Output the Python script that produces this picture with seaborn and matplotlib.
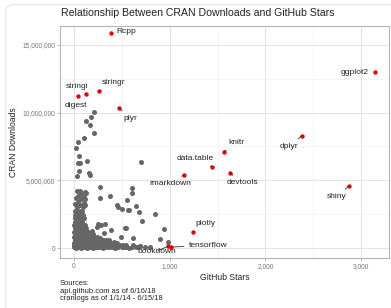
import matplotlib
matplotlib.use("Agg")
import matplotlib.pyplot as plt
import matplotlib.ticker as mticker
from matplotlib.patches import FancyBboxPatch
import seaborn as sns
import pandas as pd

# labelled packages: GitHub stars, CRAN downloads (millions)
pkg_names = ["Rcpp", "ggplot2", "stringi", "digest", "stringr", "plyr", "data.table",
             "rmarkdown", "knitr", "devtools", "dplyr", "shiny", "plotly",
             "tensorflow", "bookdown"]
pkg_stars = [387, 3145, 125, 42, 261, 470, 1442, 1150, 1567, 1630, 2382, 2873, 1243, 1013, 980]
pkg_dl = [15.85, 13.0, 11.4, 11.26, 11.56, 10.37, 6.0, 5.4, 7.1, 5.55, 8.3, 4.6, 1.19, 0.07, 0.12]
# where each label sits (stars, downloads in millions) and how it is aligned
lab_x = [440, 3080, 31, 21, 418, 585, 1264, 1003, 1693, 1755, 2247, 2748, 1379, 1400, 867]
lab_y = [16.0, 12.96, 11.93, 10.52, 12.2, 9.56, 6.6, 4.74, 7.78, 4.81, 7.48, 3.78, 1.78, 0.22, -0.22]
lab_ha = ["left", "right"] + ["center"] * 13

# the rest of the packages
other_stars = [
    209, 178, 125, 167, 209, 104, 42, 21, 52, 45, 63, 136, 157, 167, 31, 52, 700,
    272, 606, 606, 272, 376, 554, 449, 648, 502, 575, 679, 846, 710, 533, 940,
    324, 250, 899, 982, 313, 31, 63, 115, 125, 73, 42, 104, 21, 73, 115, 42, 104,
    10, 63, 115, 31, 94, 188, 240, 282, 386, 543, 491, 616, 460, 564, 616, 690,
    # dense cluster
    3, 12, 22, 31, 44, 58, 70, 83, 97, 112, 128, 141, 157, 172, 188, 205, 221, 240,
    262, 281, 303, 327, 352, 380, 405, 431, 462, 498, 520, 547, 573, 612, 648, 660,
    690, 740, 800,
    6, 18, 29, 40, 53, 66, 79, 92, 106, 121, 135, 150, 166, 183, 199, 218, 236, 257,
    276, 298, 318, 344, 371, 398, 425, 455, 478, 512, 540,
    4, 15, 27, 38, 50, 63, 75, 89, 103, 117, 132, 148, 163, 179, 196, 213, 232, 255,
    279, 305, 331, 360, 389, 420, 452,
    8, 19, 33, 46, 58, 72, 86, 101, 115, 130, 147, 164, 182, 201, 224, 248, 273, 302,
    335, 368,
    5, 17, 30, 43, 56, 69, 84, 99, 113, 128, 146, 168, 190, 215, 243, 270,
    10, 24, 37, 51, 66, 82, 97, 114, 131, 152, 178, 205,
    7, 21, 35, 49, 64, 80, 96, 118, 143,
    12, 28, 45, 62, 78, 101, 125,
    6, 22, 40, 57, 74, 92, 118,
    14, 32, 50, 68, 88,
    9, 26, 44, 63, 81, 108,
    17, 36, 55, 74, 99,
    8, 28, 47, 66, 90,
]
other_dl = [
    10.07, 9.7, 9.4, 9.1, 8.5, 8.1, 7.8, 7.4, 6.8, 6.3, 6.3, 6.4, 5.55, 5.4, 5.3, 5.7, 6.37,
    4.5, 4.44, 4.07, 3.7, 3.85, 3.56, 3.2, 3.1, 2.9, 2.8, 2.67, 2.5, 2.0, 1.48, 1.4,
    1.8, 1.8, 0.67, 0.44, 1.1, 4.2, 4.2, 4.15, 4.07, 4.0, 3.85, 3.8, 3.7, 3.6, 3.6, 3.4, 3.33,
    3.26, 3.2, 3.2, 3.0, 3.0, 1.26, 1.55, 1.7, 1.33, 1.48, 0.8, 0.74, 3.0, 2.8, 0.22, 0.15,
    0.05, 0.06, 0.04, 0.07, 0.05, 0.06, 0.04, 0.05, 0.07, 0.05, 0.06, 0.04, 0.05, 0.06,
    0.05, 0.04, 0.06, 0.05, 0.07, 0.05, 0.04, 0.06, 0.05, 0.07, 0.05, 0.04, 0.06, 0.05,
    0.07, 0.05, 0.04, 0.06, 0.05, 0.07, 0.12, 0.08, 0.05,
    0.2, 0.22, 0.18, 0.21, 0.2, 0.19, 0.22, 0.2, 0.18, 0.21, 0.2, 0.22, 0.19, 0.2, 0.21,
    0.18, 0.2, 0.22, 0.2, 0.19, 0.21, 0.2, 0.18, 0.22, 0.2, 0.19, 0.21, 0.2, 0.22,
    0.4, 0.42, 0.38, 0.41, 0.4, 0.39, 0.42, 0.4, 0.38, 0.41, 0.4, 0.42, 0.39, 0.4, 0.41,
    0.38, 0.4, 0.42, 0.4, 0.39, 0.41, 0.4, 0.38, 0.42, 0.4,
    0.6, 0.62, 0.58, 0.61, 0.6, 0.59, 0.62, 0.6, 0.58, 0.61, 0.6, 0.62, 0.59, 0.6, 0.61,
    0.58, 0.6, 0.62, 0.6, 0.59,
    0.8, 0.82, 0.78, 0.81, 0.8, 0.79, 0.82, 0.8, 0.78, 0.81, 0.8, 0.82, 0.79, 0.8, 0.81, 0.78,
    1.0, 1.02, 0.98, 1.01, 1.0, 0.99, 1.02, 1.0, 0.98, 1.01, 1.0, 1.02,
    1.2, 1.22, 1.18, 1.21, 1.2, 1.19, 1.22, 1.2, 1.18,
    1.45, 1.47, 1.43, 1.46, 1.45, 1.44, 1.47,
    1.7, 1.72, 1.68, 1.71, 1.7, 1.69, 1.72,
    1.95, 1.97, 1.93, 1.96, 1.95,
    2.2, 2.22, 2.18, 2.21, 2.2, 2.19,
    2.45, 2.47, 2.43, 2.46, 2.45,
    2.7, 2.72, 2.68, 2.71, 2.7,
]

sources = "Sources:\napi.github.com as of 6/16/18\ncranlogs as of 1/1/14 - 6/15/18"

sns.set_theme(style="whitegrid")
plt.rcParams["font.family"] = ["Liberation Sans", "DejaVu Sans"]

others = pd.DataFrame({"stars": other_stars, "downloads": [d * 1e6 for d in other_dl]})
pkgs = pd.DataFrame({"stars": pkg_stars, "downloads": [d * 1e6 for d in pkg_dl]})

fig = plt.figure(figsize=(3.91, 3.08), dpi=100)
fig.patches.append(FancyBboxPatch((0.015, -0.05), 1.05, 1.035, boxstyle="round,pad=0,rounding_size=0.02",
                                  transform=fig.transFigure, fc="none", ec="#e4e4e4", lw=0.8))
ax = fig.add_axes([0.153, 0.162, 0.842, 0.754])

sns.scatterplot(data=others, x="stars", y="downloads", ax=ax, color="#666666",
                s=13, linewidth=0, legend=False)
sns.scatterplot(data=pkgs, x="stars", y="downloads", ax=ax, color="#ee0000",
                s=10, linewidth=0, legend=False, zorder=4)

for name, px, py, tx, ty, ha in zip(pkg_names, pkg_stars, pkg_dl, lab_x, lab_y, lab_ha):
    arrow = None
    if ha == "center":
        arrow = dict(arrowstyle="-", color="#333333", lw=0.6, shrinkA=1, shrinkB=0)
    ax.annotate(name, xy=(px, py * 1e6), xytext=(tx, ty * 1e6), ha=ha, va="center",
                fontsize=6, color="#222222", zorder=5, arrowprops=arrow)

ax.set_xlim(-146, 3290)
ax.set_ylim(-0.74e6, 16.4e6)
ax.xaxis.set_major_locator(mticker.MultipleLocator(1000))
ax.xaxis.set_minor_locator(mticker.MultipleLocator(500))
ax.yaxis.set_major_locator(mticker.MultipleLocator(5e6))
ax.yaxis.set_minor_locator(mticker.MultipleLocator(2.5e6))
fmt = mticker.FuncFormatter(lambda v, p: f"{v:,.0f}")
ax.xaxis.set_major_formatter(fmt)
ax.yaxis.set_major_formatter(fmt)
ax.grid(which="major", color="#e3e3e3", lw=0.7)
ax.grid(which="minor", color="#f0f0f0", lw=0.5)
for sp in ax.spines.values():
    sp.set_color("#b5b5b5")
    sp.set_linewidth(0.8)
ax.tick_params(axis="both", which="major", labelsize=4.8, labelcolor="#777777",
               length=2, width=0.5, color="#999999", pad=1.5, bottom=True, left=True)
ax.set_xlabel("GitHub Stars", fontsize=6.2, color="#222222", labelpad=2)
ax.set_ylabel("CRAN Downloads", fontsize=6.2, color="#222222", labelpad=3)

fig.text(0.155, 0.957, "Relationship Between CRAN Downloads and GitHub Stars",
         fontsize=7.6, color="#222222", va="center")
fig.text(0.153, 0.018, sources, fontsize=5.4, color="#222222", va="bottom", linespacing=1.15)

fig.savefig("out.png", dpi=100)
